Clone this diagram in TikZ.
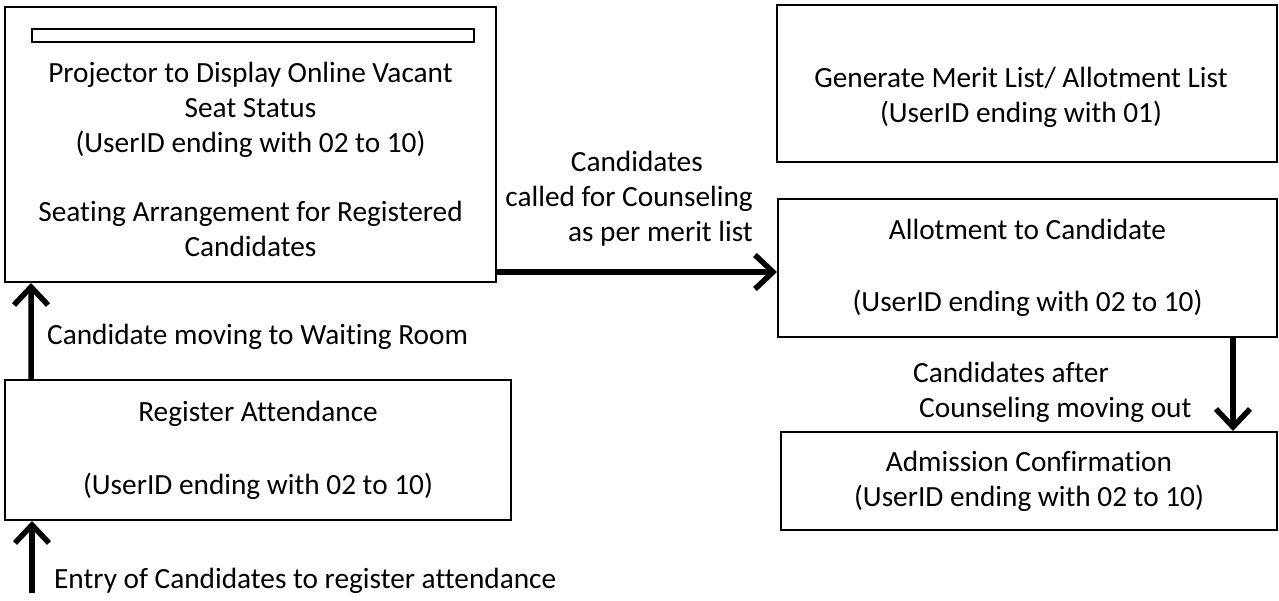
\documentclass[tikz,border=0pt]{standalone}
\usepackage{fontspec}
\setmainfont{Carlito}[Ligatures=NoCommon]
\usetikzlibrary{arrows.meta,positioning}

\begin{document}
\begin{tikzpicture}[>={Straight Barb[length=18bp,width=34bp]},line join=miter,
  txt/.style={font=\fontsize{29.3bp}{35bp}\selectfont,inner sep=0pt},
  box/.style={txt,draw,line width=2bp,align=center},
  flow/.style={->,line width=5.5bp}]
\useasboundingbox (0bp,0bp) rectangle (1279bp,601bp);
%%
\node (proj) at (250.5bp,456.5bp) [box,minimum width=491bp,minimum height=275bp] {};
  \draw [line width=1.5bp] ([shift={(28bp,-23bp)}]proj.north west) rectangle ([shift={(-23bp,-36bp)}]proj.north east);
  \node (projtext) at (250.5bp,441.5bp) [txt,align=center] {Projector to Display Online Vacant\\Seat Status\\(UserID ending with 02 to 10)\\[34bp]Seating Arrangement for Registered\\Candidates};
  \node (reg) at (258bp,151bp) [box,minimum width=506bp,minimum height=140bp] {Register Attendance\\[38bp](UserID ending with 02 to 10)};
  \node (merit) at (1027bp,517.5bp) [box,minimum width=500bp,minimum height=157bp] {};
  \node (merittext) at (1021bp,504bp) [txt,align=center] {Generate Merit List/ Allotment List\\(UserID ending with 01)};
  \node (allot) at (1027.5bp,333bp) [box,minimum width=499bp,minimum height=138bp] {Allotment to Candidate\\[37bp](UserID ending with 02 to 10)};
  \node (admit) at (1029bp,120bp) [box,minimum width=496bp,minimum height=98bp] {Admission Confirmation\\(UserID ending with 02 to 10)};
  \coordinate (entry) at (32bp,8bp);
  \draw [flow] (entry) -- (entry |- reg.south);
  \node (entrylbl) at (54bp,20bp) [txt,anchor=west] {Entry of Candidates to register attendance};
  \draw [flow] ([xshift=27bp]reg.north west) -- ([xshift=27bp]proj.south west);
  \node (waitlbl) at (47bp,264bp) [txt,anchor=west] {Candidate moving to Waiting Room};
  \draw [flow] ([yshift=-4bp]allot.west -| proj.east) -- ([yshift=-4bp]allot.west);
  \node (calllbl) at (753bp,402.5bp) [txt,anchor=east,align=right] {Candidates\rule{50bp}{0pt}\\called for Counseling\\as per merit list};
  \draw [flow] ([xshift=-45bp]allot.south east) -- ([xshift=-45bp]admit.north east);
  \node (outlbl) at (913bp,209bp) [txt,anchor=west,align=left] {Candidates after\\\rule{6bp}{0pt}Counseling moving out};
%
\end{tikzpicture}
\end{document}
